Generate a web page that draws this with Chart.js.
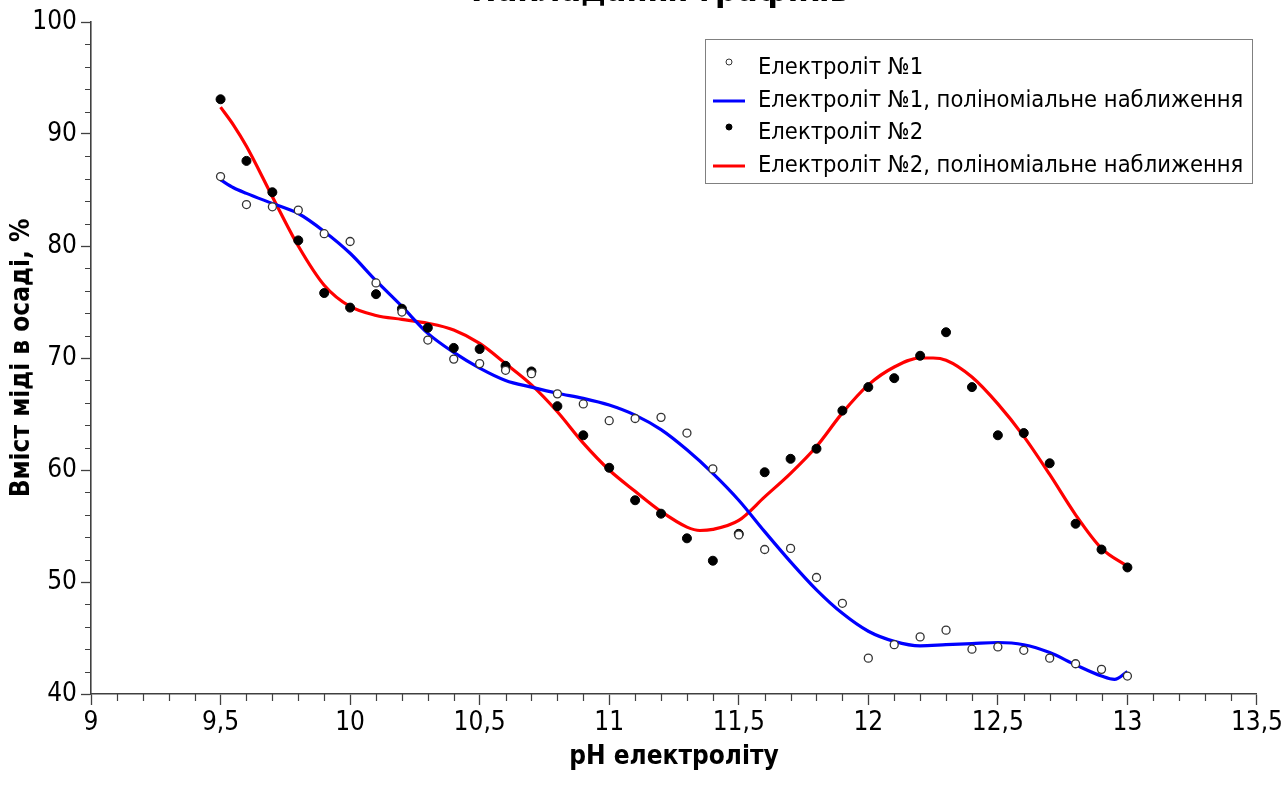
<!DOCTYPE html>
<html>
<head>
<meta charset="utf-8">
<script src="https://cdn.jsdelivr.net/npm/chart.js@4.4.1/dist/chart.umd.min.js"></script>
<style>
  html, body { margin: 0; padding: 0; background: #fff; }
</style>
</head>
<body>
<canvas id="phChart" width="1286" height="801"></canvas>
<script>
/* ============================================
   DATA
============================================ */
const phPoints = [9.5, 9.6, 9.7, 9.8, 9.9, 10.0, 10.1, 10.2, 10.3, 10.4, 10.5, 10.6,
                  10.7, 10.8, 10.9, 11.0, 11.1, 11.2, 11.3, 11.4, 11.5, 11.6, 11.7, 11.8,
                  11.9, 12.0, 12.1, 12.2, 12.3, 12.4, 12.5, 12.6, 12.7, 12.8, 12.9, 13.0];

const el1 = [86.2, 83.7, 83.5, 83.2, 81.1, 80.4, 76.7, 74.1, 71.6, 69.9, 69.5, 68.9,
             68.6, 66.8, 65.9, 64.4, 64.6, 64.7, 63.3, 60.1, 54.2, 52.9, 53.0, 50.4,
             48.1, 43.2, 44.4, 45.1, 45.7, 44.0, 44.2, 43.9, 43.2, 42.7, 42.2, 41.6];

const el2 = [93.1, 87.6, 84.8, 80.5, 75.8, 74.5, 75.7, 74.4, 72.7, 70.9, 70.8, 69.3,
             68.8, 65.7, 63.1, 60.2, 57.3, 56.1, 53.9, 51.9, 54.3, 59.8, 61.0, 61.9,
             65.3, 67.4, 68.2, 70.2, 72.3, 67.4, 63.1, 63.3, 60.6, 55.2, 52.9, 51.3];

// polynomial fit curves
const phFit1 = [9.5, 9.55, 9.6, 9.7, 9.8, 9.9, 10.0, 10.1, 10.2, 10.3, 10.4, 10.5, 10.6,
                10.7, 10.8, 10.9, 11.0, 11.1, 11.2, 11.3, 11.4, 11.5, 11.6, 11.7, 11.8,
                11.9, 12.0, 12.1, 12.2, 12.3, 12.4, 12.5, 12.6, 12.7, 12.8, 12.9, 12.95, 13.0];
const fit1 = [85.9, 85.2, 84.7, 83.8, 82.9, 81.3, 79.35, 76.9, 74.6, 72.2, 70.5, 69.1, 68.0,
              67.4, 66.85, 66.4, 65.8, 64.9, 63.6, 61.8, 59.7, 57.3, 54.5, 51.8, 49.3,
              47.2, 45.6, 44.7, 44.3, 44.4, 44.5, 44.6, 44.4, 43.7, 42.6, 41.6, 41.3, 42.0];

const phFit2 = [9.5, 9.55, 9.6, 9.7, 9.8, 9.9, 10.0, 10.1, 10.2, 10.3, 10.4, 10.5, 10.6,
                10.7, 10.8, 10.9, 11.0, 11.1, 11.2, 11.3, 11.35, 11.4, 11.5, 11.6, 11.7,
                11.8, 11.9, 12.0, 12.1, 12.2, 12.25, 12.3, 12.4, 12.5, 12.6, 12.7, 12.8, 12.9, 13.0];
const fit2 = [92.4, 90.8, 88.9, 84.4, 80.0, 76.5, 74.6, 73.8, 73.45, 73.1, 72.5, 71.3, 69.5,
              67.6, 65.2, 62.4, 60.0, 58.1, 56.3, 54.9, 54.6, 54.7, 55.5, 57.6, 59.7,
              62.1, 65.1, 67.6, 69.2, 70.0, 70.0, 69.8, 68.3, 65.9, 63.0, 59.6, 56.0, 53.0, 51.4];

const seriesLabels = ['Електроліт №1', 'Електроліт №1, поліноміальне наближення',
                      'Електроліт №2', 'Електроліт №2, поліноміальне наближення'];
const titleText = 'Накладання графіків';
const xTitle = 'pH електроліту';
const yTitle = 'Вміст міді в осаді, %';

/* ============================================
   HELPERS
============================================ */
const FONT = "'Liberation Sans Narrow', 'DejaVu Sans Condensed', 'Liberation Sans', sans-serif";
const AXIS = '#404040';

function pts(xs, ys) {
    return xs.map((x, i) => ({ x: x, y: ys[i] }));
}

/* ============================================
   PLUGINS
============================================ */
// minor ticks every 0.1 on x and every 2 on y
const minorTicks = {
    id: 'minorTicks',
    afterDraw(chart) {
        const { ctx, scales: { x, y } } = chart;
        ctx.save();
        ctx.strokeStyle = AXIS;
        ctx.lineWidth = 1.2;
        ctx.beginPath();
        for (let i = 90; i <= 135; i++) {
            if (i % 5 === 0) continue;
            const px = Math.round(x.getPixelForValue(i / 10)) + 0.5;
            ctx.moveTo(px, y.bottom);
            ctx.lineTo(px, y.bottom + 7);
        }
        for (let v = 40; v <= 100; v += 2) {
            if (v % 10 === 0) continue;
            const py = Math.round(y.getPixelForValue(v)) + 0.5;
            ctx.moveTo(x.left, py);
            ctx.lineTo(x.left - 6, py);
        }
        ctx.stroke();
        ctx.restore();
    }
};

// title sits mostly above the canvas edge, as in the source picture
const cutTitle = {
    id: 'cutTitle',
    afterDraw(chart) {
        const ctx = chart.ctx;
        ctx.save();
        ctx.font = 'bold 34px ' + FONT;
        ctx.fillStyle = '#000';
        ctx.textAlign = 'center';
        ctx.textBaseline = 'alphabetic';
        ctx.fillText(titleText, 660, 1);
        ctx.restore();
    }
};

const boxLegend = {
    id: 'boxLegend',
    afterDraw(chart) {
        const ctx = chart.ctx;
        const bx = 705.5, by = 39.5, bw = 547, bh = 144;
        const rows = [68, 101, 133, 166];
        ctx.save();
        ctx.fillStyle = '#fff';
        ctx.fillRect(bx, by, bw, bh);
        ctx.strokeStyle = '#808080';
        ctx.lineWidth = 1;
        ctx.strokeRect(bx, by, bw, bh);
        chart.data.datasets.forEach((ds, i) => {
            const ry = rows[i];
            if (ds.showLine) {
                ctx.strokeStyle = ds.borderColor;
                ctx.lineWidth = 3;
                ctx.beginPath();
                ctx.moveTo(713, ry);
                ctx.lineTo(745, ry);
                ctx.stroke();
            } else {
                ctx.beginPath();
                ctx.arc(729, ry - 6, 3, 0, Math.PI * 2);
                ctx.fillStyle = ds.backgroundColor;
                ctx.fill();
                ctx.strokeStyle = ds.borderColor;
                ctx.lineWidth = 1;
                ctx.stroke();
            }
            ctx.fillStyle = '#000';
            ctx.font = '23.5px ' + FONT;
            ctx.textAlign = 'left';
            ctx.textBaseline = 'middle';
            ctx.fillText(ds.label, 758, ry);
        });
        ctx.restore();
    }
};

/* ============================================
   CHART
============================================ */
function initChart() {
    const canvas = document.getElementById('phChart');
    const tickFont = { family: FONT, size: 26 };
    const titleFont = { family: FONT, size: 26, weight: 'bold' };

    new Chart(canvas.getContext('2d'), {
        type: 'scatter',
        data: {
            datasets: [{
                label: seriesLabels[0],
                data: pts(phPoints, el1),
                showLine: false,
                pointRadius: 4,
                pointHoverRadius: 4,
                pointBorderWidth: 1.3,
                borderColor: '#333',
                backgroundColor: '#fff',
                order: 0
            }, {
                label: seriesLabels[1],
                data: pts(phFit1, fit1),
                showLine: true,
                borderColor: '#0000ff',
                backgroundColor: '#0000ff',
                borderWidth: 3.2,
                pointRadius: 0,
                cubicInterpolationMode: 'monotone',
                order: 2
            }, {
                label: seriesLabels[2],
                data: pts(phPoints, el2),
                showLine: false,
                pointRadius: 4.5,
                pointHoverRadius: 4.5,
                borderColor: '#000',
                backgroundColor: '#000',
                order: 1
            }, {
                label: seriesLabels[3],
                data: pts(phFit2, fit2),
                showLine: true,
                borderColor: '#ff0000',
                backgroundColor: '#ff0000',
                borderWidth: 3.2,
                pointRadius: 0,
                cubicInterpolationMode: 'monotone',
                order: 3
            }]
        },
        options: {
            responsive: false,
            animation: false,
            layout: { padding: { top: 22, right: 29, bottom: 0, left: 0 } },
            plugins: {
                legend: { display: false },
                tooltip: { enabled: false }
            },
            scales: {
                x: {
                    type: 'linear',
                    min: 9,
                    max: 13.5,
                    afterFit: s => { s.height = 107; },
                    ticks: {
                        stepSize: 0.5,
                        autoSkip: false,
                        maxRotation: 0,
                        color: '#000',
                        font: tickFont,
                        padding: 3,
                        callback: v => String(v).replace('.', ',')
                    },
                    grid: {
                        drawOnChartArea: false,
                        tickLength: 11,
                        tickColor: AXIS,
                        tickWidth: 1.3
                    },
                    border: { display: true, color: AXIS, width: 1.6 },
                    title: {
                        display: true,
                        text: xTitle,
                        color: '#000',
                        font: titleFont,
                        padding: { top: 0, bottom: 28 }
                    }
                },
                y: {
                    min: 40,
                    max: 100,
                    afterFit: s => { s.width = 91; },
                    ticks: {
                        stepSize: 10,
                        color: '#000',
                        font: tickFont,
                        padding: 4
                    },
                    grid: {
                        drawOnChartArea: false,
                        tickLength: 10,
                        tickColor: AXIS,
                        tickWidth: 1.3
                    },
                    border: { display: true, color: AXIS, width: 1.6 },
                    title: {
                        display: true,
                        text: yTitle,
                        color: '#000',
                        font: titleFont,
                        padding: { top: 7, bottom: 0 }
                    }
                }
            }
        },
        plugins: [minorTicks, cutTitle, boxLegend]
    });
}

document.addEventListener('DOMContentLoaded', initChart);
</script>
</body>
</html>
